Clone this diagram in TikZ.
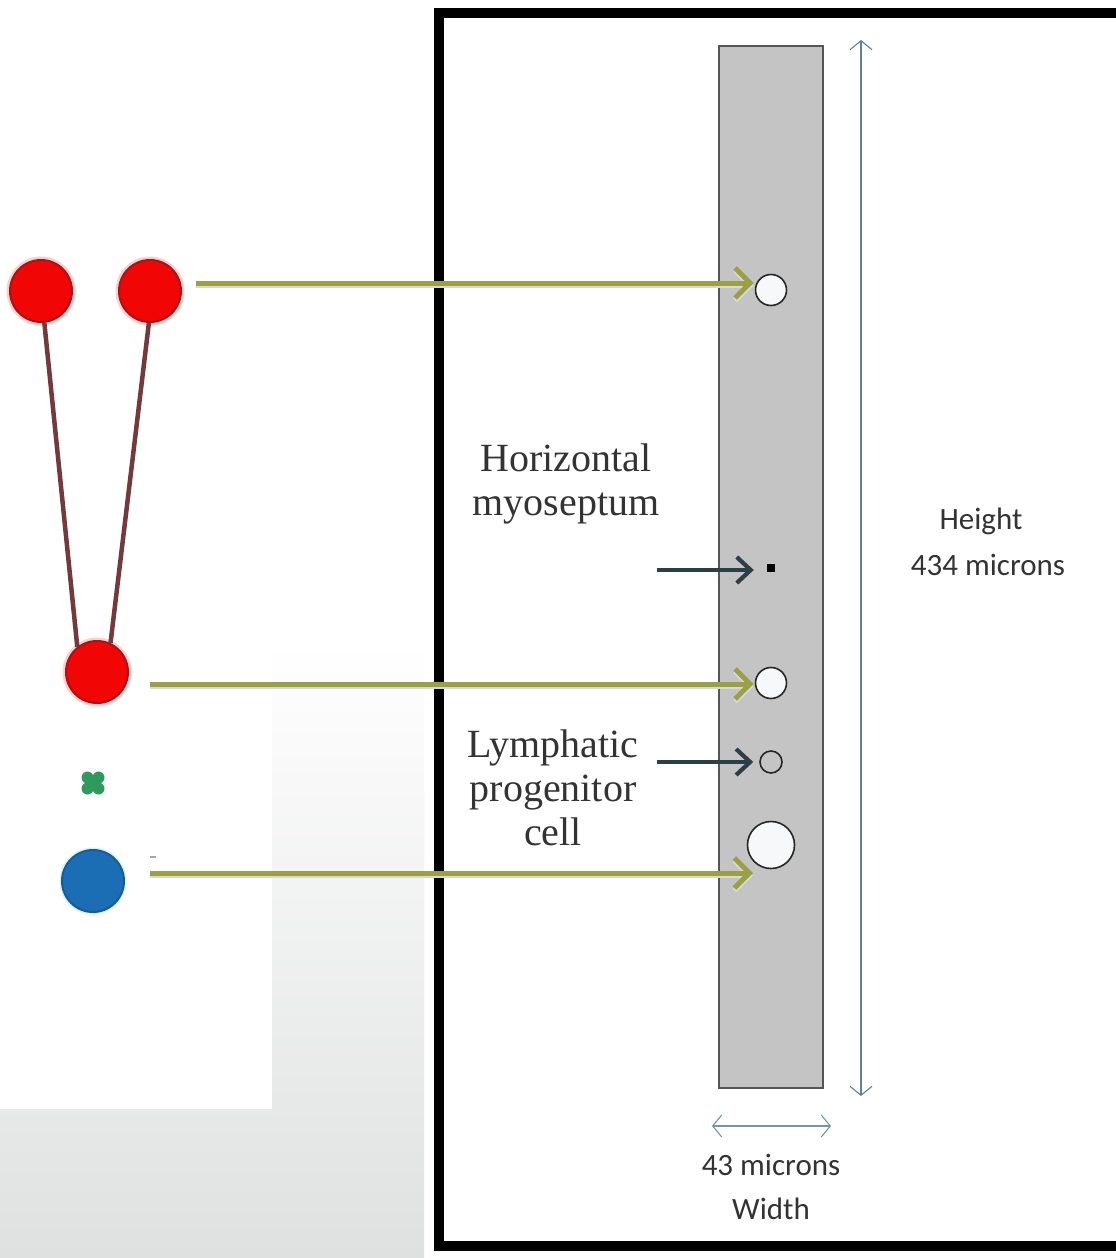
\documentclass[tikz,border=0pt]{standalone}
\usepackage{fontspec}
\setmainfont{Liberation Serif}
\newfontfamily\calib{Carlito}
\usetikzlibrary{arrows.meta}
\definecolor{arrowgreen}{HTML}{9BA044}
\definecolor{darkarrow}{HTML}{2F3E46}
\definecolor{redfill}{HTML}{F20505}
\definecolor{rededge}{HTML}{A51515}
\definecolor{redglow}{HTML}{FFD0D0}
\definecolor{stemcol}{HTML}{74393A}
\definecolor{bluefill}{HTML}{1C6EB4}
\definecolor{blueedge}{HTML}{165C98}
\definecolor{clovercol}{HTML}{2E9A5C}
\definecolor{bargray}{HTML}{C4C4C4}
\definecolor{baredge}{HTML}{555555}
\definecolor{dimcol}{HTML}{62808E}
\definecolor{widthdim}{HTML}{6E9AA0}
\definecolor{txtcol}{HTML}{333333}
\definecolor{bgbot}{HTML}{DFE1E0}
\definecolor{cellfill}{HTML}{F7F8FA}
\begin{document}
\begin{tikzpicture}[x=1pt,y=-1pt,
  ball/.style={circle, minimum size=62pt, inner sep=0pt, line width=2pt},
  redball/.style={ball, fill=redfill, draw=rededge, preaction={draw=redglow, line width=7pt}},
  stem/.style={draw=stemcol, line width=4.5pt},
  garrow/.style={draw=arrowgreen, line width=5pt, -{Straight Barb[length=15pt,width=30pt]},
     preaction={draw=black!15, line width=5pt, transform canvas={yshift=-2.5pt}}},
  darrow/.style={draw=darkarrow, line width=4.2pt, -{Straight Barb[length=14pt,width=26pt]}},
  cell/.style={circle, inner sep=0pt, draw=black!85, line width=1.6pt, fill=cellfill},
  dim/.style={line width=1.1pt, {Straight Barb[length=9pt,width=22pt]}-{Straight Barb[length=9pt,width=22pt]}},
  serif/.style={text=txtcol, font=\fontsize{40}{44}\selectfont, align=center, inner sep=0pt},
  sans/.style={text=txtcol, font=\calib\fontsize{31}{36}\selectfont, inner sep=0pt}
]
\useasboundingbox (0,0) rectangle (1116,1258);
\begin{scope}
\clip (0,0) rectangle (1116,1258);
% background
\fill[white] (0,0) rectangle (1116,1258);
\shade[top color=white, bottom color=bgbot] (0,640) rectangle (424,1258);
\fill[white] (0,0) rectangle (272,1109);
% frame
\draw[line width=10pt, fill=white] (439,12.5) rectangle (1140,1245.5);

% gray bar
\node[draw=baredge, fill=bargray, line width=1.8pt, minimum width=104pt, minimum height=1042pt, inner sep=0pt] (bar) at (771,567) {};
\node[cell, minimum size=31pt] (c1) at (771,290) {};
\node[cell, minimum size=31pt] (c2) at (771,683) {};
\node[cell, minimum size=22pt, fill=none] (lp) at (771,762) {};
\node[cell, minimum size=47pt] (c3) at (771,845) {};
\node[fill=black, minimum size=8pt, inner sep=0pt] (sq) at (771,568) {};

% dimensions
\coordinate (htop) at (861,40);
\coordinate (hbot) at (861,1096);
\draw[dim, draw=dimcol] (htop) -- (hbot);
\coordinate (wl) at (712,1126);
\coordinate (wr) at (831,1126);
\draw[dim, draw=widthdim] (wl) -- (wr);
\node[sans] (hlab) at (981,521) {Height};
\node[sans] (hval) at (988,565) {434 microns};
\node[sans] (wval) at (771,1165) {43 microns};
\node[sans] (wlab) at (771,1209) {Width};

% labels
\node[serif] (hm) at (566,484) {Horizontal\\myoseptum};
\node[serif] (lpc) at (553,788) {Lymphatic\\progenitor\\cell};

% left figure
\node[redball] (r1) at (41,291) {};
\node[redball] (r2) at (150,291) {};
\node[redball] (r3) at (97,672) {};
\draw[stem] (r1.276) -- (r3.128);
\draw[stem] (r2.268) -- (r3.65);
\node[ball, fill=bluefill, draw=blueedge, preaction={draw=cyan!15, line width=5pt}] (b1) at (93,881) {};
\node[inner sep=0pt, minimum size=1pt] (clv) at (93,783) {};
\fill[clovercol] ([shift={(-5.5,-5.5)}]clv.center) circle (6)
                 ([shift={(5.5,-5.5)}]clv.center) circle (6)
                 ([shift={(-5.5,5.5)}]clv.center) circle (6)
                 ([shift={(5.5,5.5)}]clv.center) circle (6)
                 (clv.center) circle (5.5);
\coordinate (tick) at (150,857);
\draw[black!35, line width=1.2pt] (tick) -- ++(6,0);

% arrows
\coordinate (g1s) at (196,283);
\coordinate (g2s) at (150,684);
\coordinate (g3s) at (150,873);
\coordinate (g3e) at (753,873);
\draw[garrow, shorten >=1pt] (g1s) -- (g1s -| c1.west);
\draw[garrow, shorten >=1pt] (g2s) -- (g2s -| c2.west);
\draw[garrow] (g3s) -- (g3e);
\coordinate (d1s) at (657,570);
\coordinate (d2s) at (657,762);
\draw[darrow, shorten >=13pt] (d1s) -- (d1s -| sq.west);
\draw[darrow, shorten >=6pt] (d2s) -- (lp.west);
\end{scope}
\end{tikzpicture}
\end{document}
